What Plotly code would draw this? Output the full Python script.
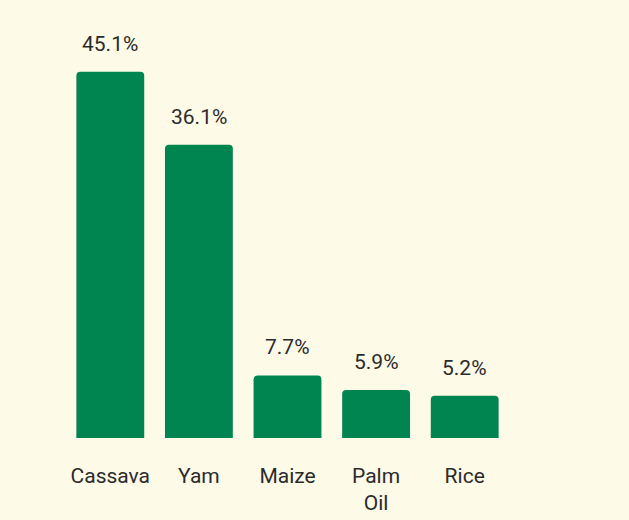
import plotly.graph_objects as go

categories = ["Cassava", "Yam", "Maize", "Palm<br>Oil", "Rice"]
values = [45.1, 36.1, 7.7, 5.9, 5.2]
value_labels = ["45.1%", "36.1%", "7.7%", "5.9%", "5.2%"]

BG = "#FEFAE8"
GREEN = "#008450"
TEXT = "#2b2b2b"
FONT = "Roboto, Inter, sans-serif"

fig = go.Figure(go.Bar(
    x=categories, y=values, marker=dict(color=GREEN, line=dict(width=0)),
    width=0.766, hoverinfo="skip",
))

for c, v, t in zip(categories, values, value_labels):
    fig.add_annotation(x=c, y=v, text=t, showarrow=False, yanchor="bottom",
                       yshift=14, font=dict(size=21, color=TEXT, family=FONT))

fig.update_layout(
    width=629, height=520,
    margin=dict(l=66, r=120, t=32, b=82, autoexpand=False),
    paper_bgcolor=BG, plot_bgcolor=BG,
    barcornerradius=4,
    showlegend=False,
    font=dict(family=FONT, size=21, color=TEXT),
    xaxis=dict(showgrid=False, zeroline=False, showline=False, ticks="", automargin=False,
               ticklabelstandoff=23, tickfont=dict(size=21, color=TEXT, family=FONT)),
    yaxis=dict(range=[0, 50], visible=False, showgrid=False, zeroline=False, automargin=False),
)

fig.write_html("out.html", config={"displayModeBar": False},
               post_script="document.body.style.margin='0';document.body.style.background='#FEFAE8';")
